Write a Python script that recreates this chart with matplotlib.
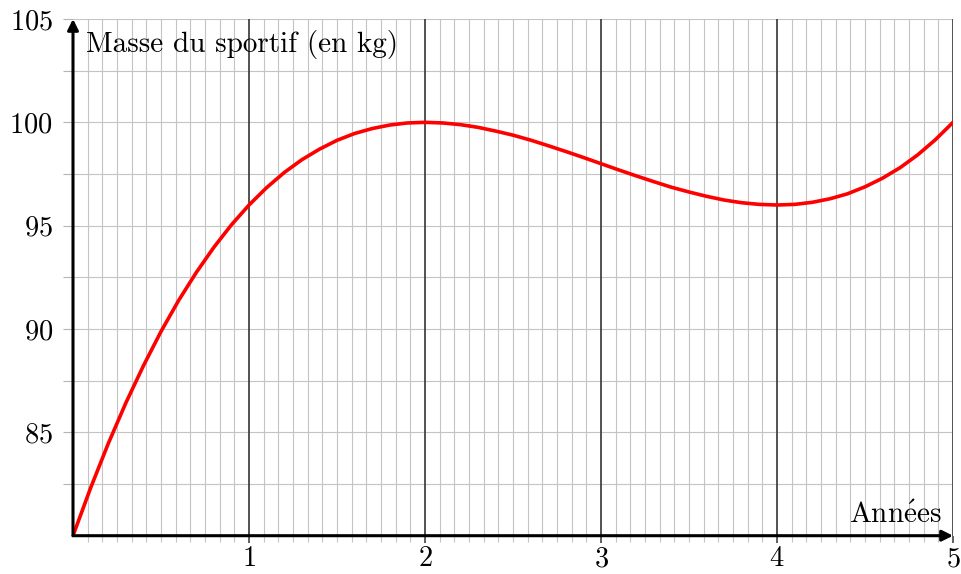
import numpy as np
import matplotlib.pyplot as plt

plt.rcParams['font.family'] = ['cmr10', 'DejaVu Serif']
plt.rcParams['mathtext.fontset'] = 'cm'
plt.rcParams['axes.formatter.use_mathtext'] = True

# valeurs (annees, masse en kg)
annees = [0.0, 0.1, 0.2, 0.3, 0.4, 0.5, 0.6, 0.7, 0.8, 0.9,
          1.0, 1.1, 1.2, 1.3, 1.4, 1.5, 1.6, 1.7, 1.8, 1.9,
          2.0, 2.1, 2.2, 2.3, 2.4, 2.5, 2.6, 2.7, 2.8, 2.9,
          3.0, 3.1, 3.2, 3.3, 3.4, 3.5, 3.6, 3.7, 3.8, 3.9,
          4.0, 4.1, 4.2, 4.3, 4.4, 4.5, 4.6, 4.7, 4.8, 4.9, 5.0]
masse = [80.00, 82.31, 84.45, 86.42, 88.22, 89.88, 91.38, 92.73, 93.95, 95.04,
         96.00, 96.84, 97.57, 98.19, 98.70, 99.13, 99.46, 99.70, 99.87, 99.97,
         100.00, 99.97, 99.89, 99.76, 99.58, 99.38, 99.14, 98.87, 98.59, 98.30,
         98.00, 97.70, 97.41, 97.13, 96.86, 96.63, 96.42, 96.24, 96.11, 96.03,
         96.00, 96.03, 96.13, 96.30, 96.54, 96.88, 97.30, 97.81, 98.43, 99.16, 100.00]
x_ticks = [1, 2, 3, 4, 5]
y_ticks = [85, 90, 95, 100, 105]

fig = plt.figure(figsize=(9.62, 5.74), dpi=100)
ax = fig.add_axes([73 / 962, 1 - 535.7 / 574, 880 / 962, 516.7 / 574])
ax.set_xlim(0, 5)
ax.set_ylim(80, 105)

# quadrillage
mois = np.arange(1, 61) / 12
for m in mois:
    if abs(m - round(m)) < 1e-6:
        ax.axvline(m, color='#444444', lw=1.3, zorder=1)
    else:
        ax.axvline(m, color='#c4c4c4', lw=0.8, zorder=0)
for yy in np.arange(82.5, 105.01, 2.5):
    ax.axhline(yy, color='#c4c4c4', lw=0.8, zorder=0)

for s in ax.spines.values():
    s.set_visible(False)

ax.set_xticks(x_ticks)
ax.set_xticks(mois, minor=True)
ax.set_yticks(y_ticks)
ax.set_yticks(np.arange(82.5, 105.01, 2.5), minor=True)
ax.tick_params(axis='x', which='major', length=5, width=1.2, color='#444444', pad=2.5, labelsize=20.5)
ax.tick_params(axis='x', which='minor', length=4, width=0.8, color='#c4c4c4')
ax.tick_params(axis='y', which='both', length=7.5, width=0.8, color='#b4b4b4', pad=7, labelsize=20.5)

ax.plot(annees, masse, color='red', lw=2.6, zorder=3)

# axes flechees
ax.annotate('', xy=(5, 80), xytext=(0, 80),
            arrowprops=dict(arrowstyle='-|>', color='black', lw=2.2, mutation_scale=16,
                            shrinkA=0, shrinkB=0), annotation_clip=False, zorder=4)
ax.annotate('', xy=(0, 105), xytext=(0, 80),
            arrowprops=dict(arrowstyle='-|>', color='black', lw=2.2, mutation_scale=16,
                            shrinkA=0, shrinkB=0), annotation_clip=False, zorder=4)

ax.text(0.074, 103.75, 'Masse du sportif (en kg)', fontsize=21, va='center', ha='left', zorder=5)
ax.text(4.937, 80.6, r'$\mathrm{Ann\acute{e}es}$', fontsize=21, va='baseline', ha='right', zorder=5)

fig.savefig('out.png', dpi=100)
